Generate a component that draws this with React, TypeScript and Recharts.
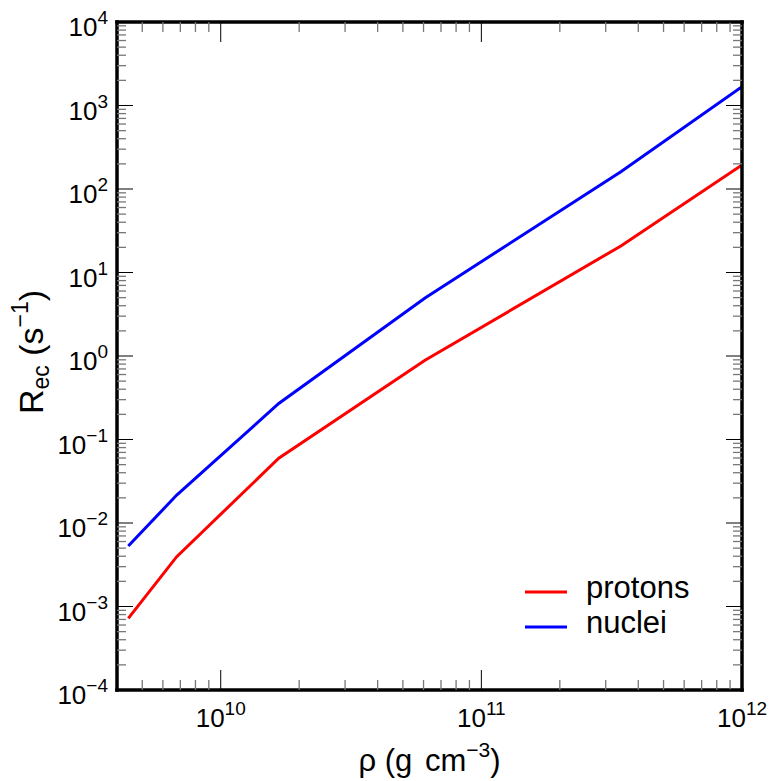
import React from 'react';
import { LineChart, Line, XAxis, YAxis, Legend } from 'recharts';

// ---- data ----
const densities = [4.42e9, 6.78e9, 1.67e10, 6.08e10, 3.43e11, 1e12];
const protonRates = [7.2e-4, 3.95e-3, 0.0596, 0.89, 20.8, 194];
const nucleiRates = [5.3e-3, 0.0216, 0.27, 4.95, 161, 1680];

const seriesNames = ['protons', 'nuclei'];
const seriesColors = ['#ff0000', '#0000ff'];

// ---- axes ----
const xDomain = [4e9, 1e12];
const yDomain = [1e-4, 1e4];
const xMajorTicks = [1e10, 1e11, 1e12];
const xTickExponents = ['10', '11', '12'];
const yMajorTicks = [1e-4, 1e-3, 1e-2, 1e-1, 1e0, 1e1, 1e2, 1e3, 1e4];
const yTickExponents = ['\u22124', '\u22123', '\u22122', '\u22121', '0', '1', '2', '3', '4'];
const xMinorDecades = [1e9, 1e10, 1e11];
const yMinorDecades = [1e-4, 1e-3, 1e-2, 1e-1, 1e0, 1e1, 1e2, 1e3];
const minorMultipliers = [2, 3, 4, 5, 6, 7, 8, 9];

const data = densities.map((d, i) => ({
  rho: d,
  protons: protonRates[i],
  nuclei: nucleiRates[i],
}));

const within = (v: number, dom: number[]) => v > dom[0] * 1.000001 && v <= dom[1] * 1.000001;
const xMinorTicks = xMinorDecades
  .flatMap((d) => minorMultipliers.map((m) => d * m))
  .filter((v) => within(v, xDomain));
const yMinorTicks = yMinorDecades.flatMap((d) => minorMultipliers.map((m) => d * m));
const xTicks = [...xMinorTicks, ...xMajorTicks].sort((a, b) => a - b);
const yTicks = [...yMinorTicks, ...yMajorTicks].sort((a, b) => a - b);

const majorIndex = (list: number[], v: number) =>
  list.findIndex((t) => Math.abs(v / t - 1) < 1e-6);

const FONT = '"Liberation Sans", Arial, Helvetica, sans-serif';
const MINOR_COLOR = '#777';
const TICK_FONT = 26;
const SUP_FONT = 19;

const BottomTick = (props: any) => {
  const { x, y, payload } = props;
  const i = majorIndex(xMajorTicks, payload.value);
  const major = i >= 0;
  return (
    <g>
      <line x1={x} x2={x} y1={y} y2={y - (major ? 20 : 10)} stroke={major ? '#000' : MINOR_COLOR} strokeWidth={major ? 1 : 1.3} />
      {major && (
        <text x={x} y={y + 37} textAnchor="middle" fontFamily={FONT} fontSize={TICK_FONT} fill="#000">
          <tspan>10</tspan>
          <tspan dy={-12} fontSize={SUP_FONT}>{xTickExponents[i]}</tspan>
        </text>
      )}
    </g>
  );
};

const TopTick = (props: any) => {
  const { x, y, payload } = props;
  const major = majorIndex(xMajorTicks, payload.value) >= 0;
  return (
    <line x1={x} x2={x} y1={y} y2={y + (major ? 20 : 10)} stroke={major ? '#000' : MINOR_COLOR} strokeWidth={major ? 1 : 1.3} />
  );
};

const LeftTick = (props: any) => {
  const { x, y, payload } = props;
  const i = majorIndex(yMajorTicks, payload.value);
  const major = i >= 0;
  return (
    <g>
      <line x1={x} x2={x + (major ? 16 : 9)} y1={y} y2={y} stroke={major ? '#000' : MINOR_COLOR} strokeWidth={major ? 1 : 1.3} />
      {major && (
        <text x={x - 9} y={y + 14} textAnchor="end" fontFamily={FONT} fontSize={TICK_FONT} fill="#000">
          <tspan>10</tspan>
          <tspan dy={-12} fontSize={SUP_FONT}>{yTickExponents[i]}</tspan>
        </text>
      )}
    </g>
  );
};

const RightTick = (props: any) => {
  const { x, y, payload } = props;
  const major = majorIndex(yMajorTicks, payload.value) >= 0;
  return (
    <line x1={x} x2={x - (major ? 16 : 9)} y1={y} y2={y} stroke={major ? '#000' : MINOR_COLOR} strokeWidth={major ? 1 : 1.3} />
  );
};

const XTitle = (props: any) => {
  const vb = props.viewBox || { x: 117, y: 690, width: 625, height: 60 };
  return (
    <text x={vb.x + vb.width / 2} y={vb.y + 81} textAnchor="middle" fontFamily={FONT} fontSize={31} fill="#000">
      <tspan>{'\u03c1 (g '}</tspan>
      <tspan dx={4}>cm</tspan>
      <tspan dy={-14} fontSize={21}>{'\u22123'}</tspan>
      <tspan dy={14}>)</tspan>
    </text>
  );
};

const YTitle = (props: any) => {
  const vb = props.viewBox || { x: 37, y: 22, width: 80, height: 668 };
  const cx = vb.x + vb.width - 74;
  const cy = vb.y + vb.height / 2 - 4;
  return (
    <text x={cx} y={cy} transform={`rotate(-90 ${cx} ${cy})`} textAnchor="middle" fontFamily={FONT} fontSize={34} fill="#000">
      <tspan>R</tspan>
      <tspan dy={6} fontSize={23}>ec</tspan>
      <tspan dy={-6}>{' (s'}</tspan>
      <tspan dy={-15} fontSize={23}>{'\u22121'}</tspan>
      <tspan dy={15}>)</tspan>
    </text>
  );
};

const renderLegend = (props: any) => {
  const payload = [...(props.payload || [])].sort(
    (a: any, b: any) => seriesNames.indexOf(a.value) - seriesNames.indexOf(b.value)
  );
  return (
    <div style={{ fontFamily: FONT, fontSize: 31, color: '#000' }}>
      {payload.map((entry: any) => (
        <div key={entry.value} style={{ display: 'flex', alignItems: 'center', height: 35 }}>
          <svg width={42} height={4} style={{ display: 'block' }}>
            <line x1={0} x2={42} y1={2} y2={2} stroke={entry.color} strokeWidth={3} />
          </svg>
          <span style={{ marginLeft: 19, lineHeight: '35px', position: 'relative', top: -4 }}>{entry.value}</span>
        </div>
      ))}
    </div>
  );
};

const frame = { stroke: '#000', strokeWidth: 3.5, strokeLinecap: 'square' as const };

export default function App() {
  return (
    <div style={{ position: 'absolute', left: 0, top: 0, background: '#fff' }}>
      <LineChart
        width={776}
        height={781}
        data={data}
        margin={{ top: 21, right: 33, bottom: 31, left: 37 }}
      >
        <XAxis
          dataKey="rho"
          type="number"
          scale="log"
          domain={xDomain}
          allowDataOverflow
          ticks={xTicks}
          interval={0}
          tick={BottomTick}
          tickLine={false}
          tickSize={0}
          tickMargin={0}
          axisLine={frame}
          height={60}
          label={XTitle}
        />
        <XAxis
          xAxisId="top"
          orientation="top"
          dataKey="rho"
          type="number"
          scale="log"
          domain={xDomain}
          allowDataOverflow
          ticks={xTicks}
          interval={0}
          tick={TopTick}
          tickLine={false}
          tickSize={0}
          tickMargin={0}
          axisLine={frame}
          height={1}
        />
        <YAxis
          type="number"
          scale="log"
          domain={yDomain}
          allowDataOverflow
          ticks={yTicks}
          interval={0}
          tick={LeftTick}
          tickLine={false}
          tickSize={0}
          tickMargin={0}
          axisLine={frame}
          width={80}
          label={YTitle}
        />
        <YAxis
          yAxisId="right"
          orientation="right"
          type="number"
          scale="log"
          domain={yDomain}
          allowDataOverflow
          ticks={yTicks}
          interval={0}
          tick={RightTick}
          tickLine={false}
          tickSize={0}
          tickMargin={0}
          axisLine={frame}
          width={1}
        />
        <Line
          type="linear"
          dataKey="protons"
          name={seriesNames[0]}
          stroke={seriesColors[0]}
          strokeWidth={3}
          dot={false}
          isAnimationActive={false}
        />
        <Line
          type="linear"
          dataKey="nuclei"
          name={seriesNames[1]}
          stroke={seriesColors[1]}
          strokeWidth={3}
          dot={false}
          isAnimationActive={false}
        />
        <Legend
          layout="vertical"
          align="center"
          verticalAlign="middle"
          content={renderLegend}
          wrapperStyle={{ left: 525, top: 574, width: 220, height: 70 }}
        />
      </LineChart>
    </div>
  );
}
